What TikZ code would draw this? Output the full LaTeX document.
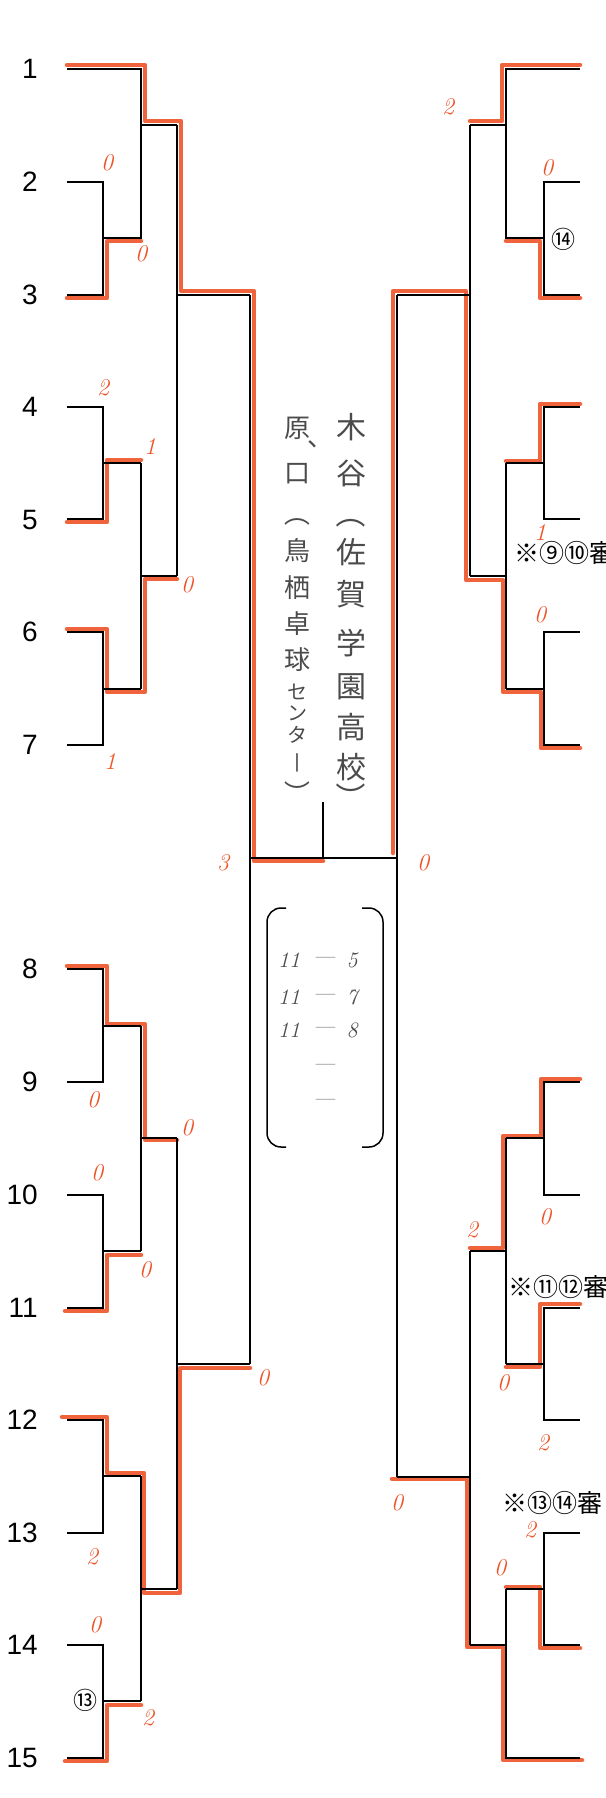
\documentclass[tikz,border=0pt]{standalone}
\usepackage{fontspec}
\newfontfamily\numf{Liberation Sans}
\newfontfamily\jpf{Noto Sans CJK JP}
\definecolor{pen}{RGB}{238,84,40}
\definecolor{ink}{RGB}{75,75,75}
\tikzset{
  bl/.style={line width=1.8pt, black},
  rd/.style={line width=4.5pt, pen, opacity=0.9, line join=round, line cap=round},
  sc/.style={text=pen, font=\fontsize{24}{24}\selectfont\itshape, inner sep=0pt},
  num/.style={font=\numf\fontsize{28}{28}\selectfont, anchor=east, inner sep=0pt},
  jpa/.style={font=\jpf\fontsize{30}{30}\selectfont, text=ink, inner sep=0pt},
  jpb/.style={font=\jpf\fontsize{26}{26}\selectfont, text=ink, inner sep=0pt},
  jpc/.style={font=\jpf\fontsize{20}{20}\selectfont, text=ink, inner sep=0pt},
  note/.style={font=\jpf\fontsize{25}{25}\selectfont, anchor=west, inner sep=0pt},
  circ/.style={font=\jpf\fontsize{24}{24}\selectfont, inner sep=0pt},
  hw/.style={font=\fontsize{22}{22}\selectfont\itshape, text=ink, inner sep=0pt},
  paren/.style={line width=1.5pt, black, rounded corners=14pt}
}
\begin{document}
\begin{tikzpicture}[x=1pt,y=-1pt]
\useasboundingbox (0,0) rectangle (605,1798);
\clip (0,0) rectangle (605,1798);
\fill[white] (0,0) rectangle (605,1798);

% ---------- red winner marks ----------
\draw[rd] (67,65)--(145,65)--(145,121)--(181,121)--(181,291)--(254,291)--(254,861)--(323,861);
\draw[rd] (67,298)--(107,298)--(107,241)--(141,241);
\draw[rd] (67,522)--(107,522)--(107,460)--(141,460);
\draw[rd] (67,629)--(107,629)--(107,692)--(145,692)--(145,579)--(177,579);
\draw[rd] (67,966)--(107,966)--(107,1024)--(145,1024)--(145,1140)--(177,1140);
\draw[rd] (65,1311)--(107,1311)--(107,1255)--(141,1255);
\draw[rd] (62,1417)--(107,1417)--(107,1473)--(144,1473)--(144,1593)--(180,1593)--(180,1368)--(250,1368);
\draw[rd] (65,1761)--(107,1761)--(107,1705)--(141,1705);
\draw[rd] (580,65)--(502,65)--(502,121)--(470,121);
\draw[rd] (580,298)--(540,298)--(540,241)--(506,241);
\draw[rd] (580,404)--(540,404)--(540,461)--(506,461);
\draw[rd] (580,748)--(541,748)--(541,692)--(503,692)--(503,580)--(466,580)--(466,291)--(393,291)--(393,853);
\draw[rd] (580,1079)--(541,1079)--(541,1136)--(503,1136)--(503,1248)--(470,1248);
\draw[rd] (580,1304)--(540,1304)--(540,1367)--(506,1367);
\draw[rd] (580,1648)--(540,1648)--(540,1587)--(506,1587);
\draw[rd] (582,1760)--(503,1760)--(503,1647)--(467,1647)--(467,1479)--(392,1479);

% ---------- black bracket: left top ----------
\draw[bl] (67,69) -| (141,238) -- (103,238);
\draw[bl] (67,182) -| (103,295) -- (67,295);
\draw[bl] (141,125) -- (177,125);
\draw[bl] (67,407) -| (103,519) -- (67,519);
\draw[bl] (103,463) -- (141,463);
\draw[bl] (67,632) -| (103,745) -- (67,745);
\draw[bl] (103,689) -- (141,689);
\draw[bl] (141,463) -- (141,689);
\draw[bl] (141,576) -- (177,576);
\draw[bl] (177,125) -- (177,576);
\draw[bl] (177,295) -- (250,295);
\draw[bl] (250,295) -- (250,1364);
\draw[bl] (250,858) -- (397,858);
\draw[bl] (323,802) -- (323,858);
% left bottom
\draw[bl] (67,969) -| (103,1082) -- (67,1082);
\draw[bl] (103,1026) -- (141,1026);
\draw[bl] (67,1195) -| (103,1308) -- (67,1308);
\draw[bl] (103,1251) -- (141,1251);
\draw[bl] (141,1026) -- (141,1251);
\draw[bl] (141,1138) -- (177,1138);
\draw[bl] (67,1420) -| (103,1533) -- (67,1533);
\draw[bl] (103,1476) -- (141,1476);
\draw[bl] (67,1645) -| (103,1758) -- (67,1758);
\draw[bl] (103,1701) -- (141,1701);
\draw[bl] (141,1476) -- (141,1701);
\draw[bl] (141,1589) -- (177,1589);
\draw[bl] (177,1138) -- (177,1589);
\draw[bl] (177,1364) -- (250,1364);
% right top
\draw[bl] (580,69) -| (506,238) -- (544,238);
\draw[bl] (580,182) -| (544,295) -- (580,295);
\draw[bl] (506,125) -- (470,125);
\draw[bl] (580,407) -| (544,519) -- (580,519);
\draw[bl] (544,463) -- (506,463);
\draw[bl] (580,632) -| (544,745) -- (580,745);
\draw[bl] (544,689) -- (506,689);
\draw[bl] (506,463) -- (506,689);
\draw[bl] (506,576) -- (470,576);
\draw[bl] (470,125) -- (470,576);
\draw[bl] (470,295) -- (397,295);
\draw[bl] (397,295) -- (397,1477);
% right bottom
\draw[bl] (580,1082) -| (544,1195) -- (580,1195);
\draw[bl] (544,1138) -- (506,1138);
\draw[bl] (580,1308) -| (544,1420) -- (580,1420);
\draw[bl] (544,1364) -- (506,1364);
\draw[bl] (506,1138) -- (506,1364);
\draw[bl] (506,1251) -- (470,1251);
\draw[bl] (580,1533) -| (544,1645) -- (580,1645);
\draw[bl] (544,1589) -- (506,1589);
\draw[bl] (580,1758) -| (506,1589);
\draw[bl] (506,1645) -- (470,1645);
\draw[bl] (470,1251) -- (470,1645);
\draw[bl] (470,1477) -- (397,1477);

% ---------- row numbers ----------
\foreach \i/\y in {1/69,2/182,3/295,4/407,5/520,6/632,7/745,8/969,9/1082,10/1195,11/1308,12/1420,13/1533,14/1645,15/1758}
  \node[num] (n\i) at (38,\y) {\i};

% ---------- scores ----------
\foreach \k/\x/\y/\t in {a/107/163/0, b/141/254/0, c/103/388/2, d/150/447/1, e/187/585/0, f/110/762/1,
  g/223/863/3, h/423/863/0, i/93/1100/0, j/187/1128/0, k/97/1173/0, l/145/1270/0, m/263/1378/0,
  n/92/1557/2, o/95/1625/0, p/148/1718/2, q/448/107/2, r/547/168/0, s/540/533/1, t/540/615/0,
  u/545/1217/0, v/472/1230/2, w/503/1383/0, x/543/1443/2, y/397/1503/0, z/530/1530/2, zz/500/1568/0}
  \node[sc] (s\k) at (\x,\y) {\t};

% ---------- circled numbers and notes ----------
\node[circ] (c14) at (563,239) {⑭};
\node[circ] (c13) at (85,1700) {⑬};
\node[note] (note1) at (514,553) {※⑨⑩審};
\node[note] (note2) at (508,1287) {※⑪⑫審};
\node[note] (note3) at (502,1503) {※⑬⑭審};

% ---------- vertical names ----------
\foreach \c/\y [count=\j] in {木/427,谷/473,佐/552,賀/594,学/643,園/687,高/727,校/767}
  \node[jpa] (va\j) at (351,\y) {\c};
\node[jpa, rotate=-90] (vaL) at (351,513) {（};
\node[jpa, rotate=-90] (vaR) at (351,797) {）};
\foreach \c/\y [count=\j] in {原/428,口/474,鳥/551,栖/588,卓/624,球/660}
  \node[jpb] (vb\j) at (297,\y) {\c};
\foreach \c/\y [count=\j] in {セ/692,ン/713,タ/735,丨/763}
  \node[jpc] (vc\j) at (297,\y) {\c};
\node[jpb, rotate=-90] (vbL) at (297,513) {（};
\node[jpb, rotate=-90] (vbR) at (297,793) {）};
\node[jpb] (vcomma) at (320,444) {、};

% ---------- centre box ----------
\draw[paren] (286,908) -- (267,908) -- (267,1147) -- (286,1147);
\draw[paren] (362,908) -- (383,908) -- (383,1147) -- (362,1147);
\foreach \y/\t [count=\j] in {960/5,997/7,1030/8}{
  \node[hw] (g\j) at (289,\y) {11};
  \node[hw] (d\j) at (324,\y) {—};
  \node[hw] (p\j) at (352,\y) {\t};
}
\node[hw] (d4) at (324,1067) {—};
\node[hw] (d5) at (324,1102) {—};
\end{tikzpicture}
\end{document}
